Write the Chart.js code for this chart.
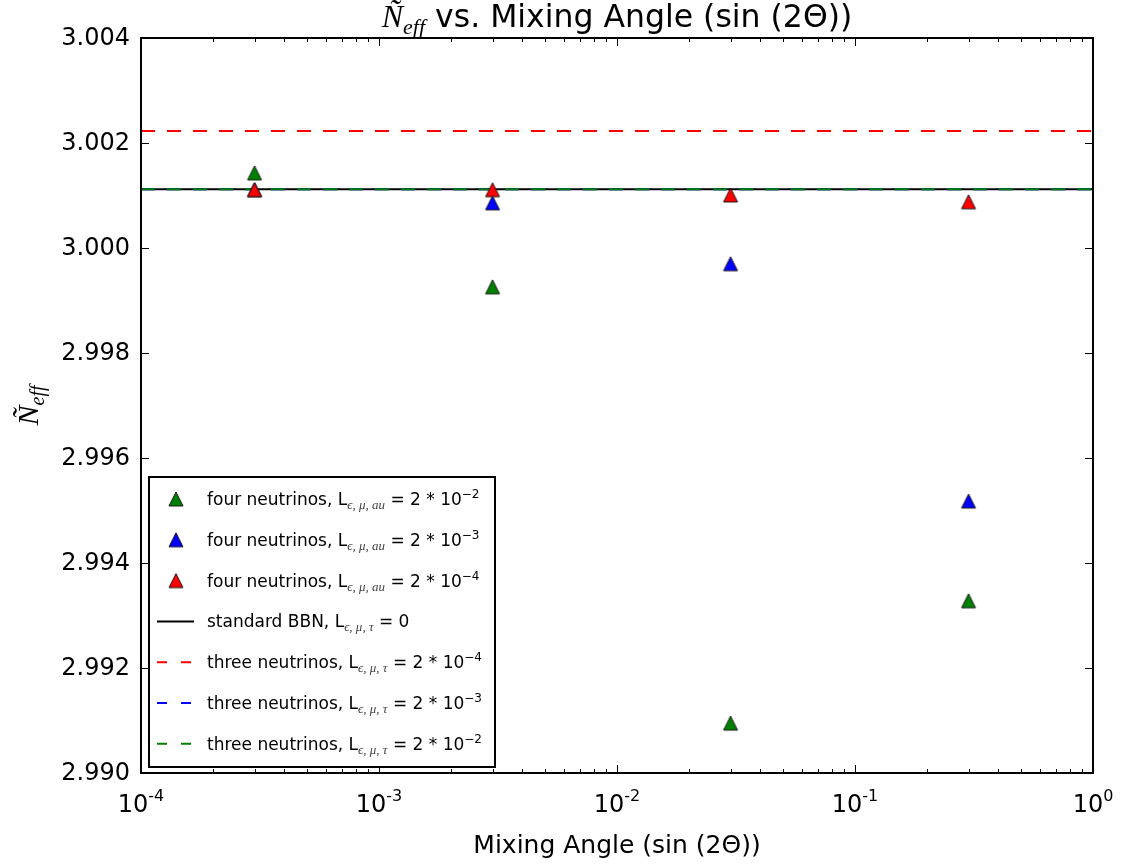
<!DOCTYPE html>
<html>
<head>
<meta charset="utf-8">
<script src="https://cdn.jsdelivr.net/npm/chart.js@4.4.1/dist/chart.umd.min.js"></script>
<style>
  html, body { margin: 0; padding: 0; background: #ffffff; }
  #wrap { width: 1123px; height: 867px; }
</style>
</head>
<body>
<div id="wrap"><canvas id="chart" width="1123" height="867"></canvas></div>
<script>
// ---- data ----------------------------------------------------------------
const mixingAngles = [3e-4, 3e-3, 3e-2, 3e-1];
const neffFourL2e2 = [3.00143, 2.99926, 2.99095, 2.99328];
const neffFourL2e3 = [3.00111, 3.00086, 2.99970, 2.99518];
const neffFourL2e4 = [3.00111, 3.00111, 3.00101, 3.00088];
const neffStandardBBN = 3.00112;
const neffThreeL2e4 = 3.00223;
const neffThreeL2e3 = 3.00112;
const neffThreeL2e2 = 3.00112;

const xRange = [1e-4, 1];
const yRange = [2.990, 3.004];
const xDecadeTicks = [1e-4, 1e-3, 1e-2, 1e-1, 1];
const xDecadeExponents = ['-4', '-3', '-2', '-1', '0'];
const yTicks = [2.990, 2.992, 2.994, 2.996, 2.998, 3.000, 3.002, 3.004];
const yTickLabels = ['2.990', '2.992', '2.994', '2.996', '2.998', '3.000', '3.002', '3.004'];

// ---- styling helpers -----------------------------------------------------
const SANS = '"DejaVu Sans", sans-serif';
const SERIF = '"Liberation Serif", "DejaVu Serif", serif';
const GREEN = '#008000', BLUE = '#0000ff', RED = '#ff0000', BLACK = '#000000';

// matplotlib-style "^" marker: bounding box centred on the data point
function triangleMarker(fill) {
  const c = document.createElement('canvas');
  c.width = 18; c.height = 18;
  const g = c.getContext('2d');
  g.beginPath();
  g.moveTo(9, 2);
  g.lineTo(16, 16);
  g.lineTo(2, 16);
  g.closePath();
  g.fillStyle = fill;
  g.fill();
  g.lineWidth = 1;
  g.strokeStyle = '#1a1a1a';
  g.stroke();
  return c;
}
const markerGreen = triangleMarker(GREEN);
const markerBlue = triangleMarker(BLUE);
const markerRed = triangleMarker(RED);

function flatLine(v) { return [{ x: xRange[0], y: v }, { x: xRange[1], y: v }]; }
function points(ys) { return mixingAngles.map((x, i) => ({ x, y: ys[i] })); }

// rich text pieces: main text, subscript and superscript
const LFONT = '17px ' + SANS;
function sub(t) { return { text: t, font: 'italic 13px ' + SERIF, dy: 4, color: '#444' }; }
function sup(t) { return { text: t, font: '12px ' + SANS, dy: -7 }; }
function txt(t) { return { text: t, font: LFONT }; }

function richWidth(ctx, parts) {
  let w = 0;
  for (const p of parts) { ctx.font = p.font; w += ctx.measureText(p.text).width; }
  return w;
}
function drawRich(ctx, parts, x, y, align) {
  const w = richWidth(ctx, parts);
  let cx = align === 'center' ? x - w / 2 : align === 'right' ? x - w : x;
  ctx.textAlign = 'left';
  ctx.textBaseline = 'alphabetic';
  for (const p of parts) {
    ctx.font = p.font;
    ctx.fillStyle = p.color || '#000';
    ctx.fillText(p.text, cx, y + (p.dy || 0));
    cx += ctx.measureText(p.text).width;
  }
}

const datasets = [
  { label: 'four neutrinos, L = 2 * 10^-2', data: points(neffFourL2e2), pointStyle: markerGreen,
    pointRadius: 7, showLine: false, order: 2,
    legendParts: [txt('four neutrinos, L'), sub('ϵ, μ, au'), txt(' = 2 * 10'), sup('−2')] },
  { label: 'four neutrinos, L = 2 * 10^-3', data: points(neffFourL2e3), pointStyle: markerBlue,
    pointRadius: 7, showLine: false, order: 1,
    legendParts: [txt('four neutrinos, L'), sub('ϵ, μ, au'), txt(' = 2 * 10'), sup('−3')] },
  { label: 'four neutrinos, L = 2 * 10^-4', data: points(neffFourL2e4), pointStyle: markerRed,
    pointRadius: 7, showLine: false, order: 0,
    legendParts: [txt('four neutrinos, L'), sub('ϵ, μ, au'), txt(' = 2 * 10'), sup('−4')] },
  { label: 'standard BBN, L = 0', data: flatLine(neffStandardBBN), showLine: true, pointRadius: 0,
    borderColor: BLACK, borderWidth: 2, order: 6,
    legendParts: [txt('standard BBN, L'), sub('ϵ, μ, τ'), txt(' = 0')] },
  { label: 'three neutrinos, L = 2 * 10^-4', data: flatLine(neffThreeL2e4), showLine: true, pointRadius: 0,
    borderColor: RED, borderWidth: 2, borderDash: [14, 12], order: 5,
    legendParts: [txt('three neutrinos, L'), sub('ϵ, μ, τ'), txt(' = 2 * 10'), sup('−4')] },
  { label: 'three neutrinos, L = 2 * 10^-3', data: flatLine(neffThreeL2e3), showLine: true, pointRadius: 0,
    borderColor: BLUE, borderWidth: 2, borderDash: [14, 12], order: 4,
    legendParts: [txt('three neutrinos, L'), sub('ϵ, μ, τ'), txt(' = 2 * 10'), sup('−3')] },
  { label: 'three neutrinos, L = 2 * 10^-2', data: flatLine(neffThreeL2e2), showLine: true, pointRadius: 0,
    borderColor: GREEN, borderWidth: 2, borderDash: [14, 12], order: 3,
    legendParts: [txt('three neutrinos, L'), sub('ϵ, μ, τ'), txt(' = 2 * 10'), sup('−2')] }
];

// frame, inward ticks, labels, title and legend in the classic matplotlib look
const decorations = {
  id: 'decorations',
  beforeDraw(chart) {
    const ctx = chart.ctx;
    ctx.save();
    ctx.fillStyle = '#ffffff';
    ctx.fillRect(0, 0, chart.width, chart.height);
    ctx.restore();
  },
  afterDraw(chart) {
    const ctx = chart.ctx;
    const a = chart.chartArea;
    const xs = chart.scales.x, ys = chart.scales.y;
    ctx.save();

    // ticks
    ctx.strokeStyle = '#000';
    ctx.lineWidth = 1;
    const tickV = (px, len) => {
      ctx.beginPath();
      ctx.moveTo(px, a.bottom); ctx.lineTo(px, a.bottom - len);
      ctx.moveTo(px, a.top); ctx.lineTo(px, a.top + len);
      ctx.stroke();
    };
    xDecadeTicks.forEach(v => tickV(Math.round(xs.getPixelForValue(v)) + 0.5, 8));
    for (let i = 0; i < xDecadeTicks.length - 1; i++) {
      for (let k = 2; k <= 9; k++) {
        tickV(Math.round(xs.getPixelForValue(k * xDecadeTicks[i])) + 0.5, 4);
      }
    }
    yTicks.forEach(v => {
      const py = Math.round(ys.getPixelForValue(v)) + 0.5;
      ctx.beginPath();
      ctx.moveTo(a.left, py); ctx.lineTo(a.left + 8, py);
      ctx.moveTo(a.right, py); ctx.lineTo(a.right - 8, py);
      ctx.stroke();
    });

    // frame
    ctx.lineWidth = 2;
    ctx.strokeRect(a.left, a.top, a.right - a.left, a.bottom - a.top);

    // y tick labels
    ctx.fillStyle = '#000';
    ctx.font = '24px ' + SANS;
    ctx.textAlign = 'right';
    ctx.textBaseline = 'middle';
    yTicks.forEach((v, i) => ctx.fillText(yTickLabels[i], a.left - 11, ys.getPixelForValue(v) + 1));

    // x tick labels: 10 with exponent
    xDecadeTicks.forEach((v, i) => {
      drawRich(ctx, [
        { text: '10', font: '24px ' + SANS },
        { text: xDecadeExponents[i], font: '16px ' + SANS, dy: -11 }
      ], xs.getPixelForValue(v), a.bottom + 39, 'center');
    });

    // axis titles
    drawRich(ctx, [{ text: 'Mixing Angle (sin (2Θ))', font: '25px ' + SANS }],
      (a.left + a.right) / 2, 853, 'center');
    ctx.save();
    ctx.translate(38, (a.top + a.bottom) / 2);
    ctx.rotate(-Math.PI / 2);
    drawRich(ctx, [
      { text: 'Ñ', font: 'italic 30px ' + SERIF },
      { text: 'eff', font: 'italic 20px ' + SERIF, dy: 6 }
    ], 0, 0, 'center');
    ctx.restore();

    // title
    drawRich(ctx, [
      { text: 'Ñ', font: 'italic 32px ' + SERIF },
      { text: 'eff', font: 'italic 22px ' + SERIF, dy: 7 },
      { text: ' vs. Mixing Angle (sin (2Θ))', font: '31.5px ' + SANS }
    ], (a.left + a.right) / 2, 27, 'center');

    // legend
    const box = { x: 149, y: 477, w: 346, h: 290 };
    ctx.fillStyle = '#ffffff';
    ctx.fillRect(box.x, box.y, box.w, box.h);
    ctx.lineWidth = 2;
    ctx.strokeStyle = '#000';
    ctx.strokeRect(box.x, box.y, box.w, box.h);
    const rowH = 40.8;
    chart.data.datasets.forEach((ds, i) => {
      const cy = box.y + 22 + i * rowH;
      if (ds.showLine) {
        ctx.save();
        ctx.strokeStyle = ds.borderColor;
        ctx.lineWidth = 2;
        ctx.setLineDash(ds.borderDash ? [10, 14] : []);
        ctx.beginPath();
        ctx.moveTo(157, cy); ctx.lineTo(194, cy);
        ctx.stroke();
        ctx.restore();
      } else {
        const m = ds.pointStyle;
        ctx.drawImage(m, 176 - m.width / 2, cy - m.height / 2);
      }
      drawRich(ctx, ds.legendParts, 207, cy + 6, 'left');
    });
    ctx.restore();
  }
};

new Chart(document.getElementById('chart'), {
  type: 'scatter',
  data: { datasets },
  options: {
    responsive: false,
    animation: false,
    devicePixelRatio: 1,
    layout: { padding: { left: 141, top: 38, right: 30, bottom: 94 } },
    plugins: { legend: { display: false }, title: { display: false }, tooltip: { enabled: false } },
    scales: {
      x: { type: 'logarithmic', min: xRange[0], max: xRange[1], display: false },
      y: { type: 'linear', min: yRange[0], max: yRange[1], display: false }
    }
  },
  plugins: [decorations]
});
</script>
</body>
</html>
